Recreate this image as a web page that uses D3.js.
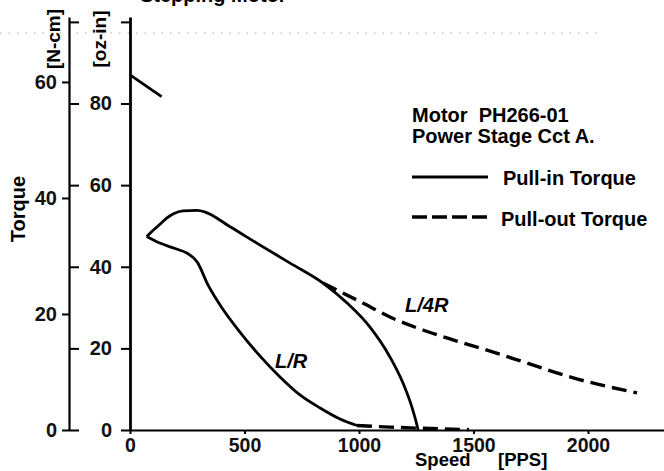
<!DOCTYPE html>
<html>
<head>
<meta charset="utf-8">
<script src="https://cdn.jsdelivr.net/npm/d3@7"></script>
<style>
  body { margin: 0; background: #fff; }
  svg { display: block; font-family: "Liberation Sans", Arial, sans-serif; font-weight: bold; }
  .tick text { font-family: "Liberation Sans", Arial, sans-serif; font-weight: bold; fill: #111; }
</style>
</head>
<body>
<div id="chart"></div>
<script>
// Speed [PPS] / torque [oz-in]
const lowSpeed = [0, 138];
const lowTorque = [87, 81.7];

// pull-in, L/4R (upper branch of the loop and its fall to zero)
const pullInL4RSpeed = [73, 100, 131, 160, 190, 231, 293, 328, 437, 568, 699, 843, 948, 1048, 1135, 1192, 1231, 1253, 1258];
const pullInL4RTorque = [47.4, 48.9, 50.4, 51.9, 53.0, 53.7, 53.8, 53.4, 49.8, 45.3, 40.9, 36, 31.1, 25.2, 17.9, 11.5, 5.6, 1.2, 0];

// pull-in, L/R (lower branch)
const pullInLRSpeed = [73, 130, 200, 250, 293, 341, 402, 480, 568, 655, 742, 830, 917, 991];
const pullInLRTorque = [47.4, 45.8, 44.4, 43.3, 41.2, 35.5, 29.9, 24, 18.1, 13, 8.6, 5.4, 2.7, 1.1];

// pull-out
const pullOutL4RSpeed = [843, 1017, 1135, 1279, 1410, 1528, 1734, 1921, 2214];
const pullOutL4RTorque = [36, 31.1, 27.7, 24.5, 22.1, 20.1, 16.4, 13, 9.1];
const pullOutLRSpeed = [991, 1135, 1258, 1480];
const pullOutLRTorque = [1.1, 0.7, 0.45, 0.1];

const speedTicks = [0, 500, 1000, 1500, 2000];
const ozTicks = [0, 20, 40, 60, 80, 100];
const ncmTicks = [0, 20, 40, 60];

const width = 664, height = 471;

const svg = d3.select("#chart").append("svg")
    .attr("width", width)
    .attr("height", height);

const x = d3.scaleLinear().domain([0, 2330]).range([130, 663.6]);
const y = d3.scaleLinear().domain([0, 101.2]).range([430, 17]);
const yN = d3.scaleLinear().domain([0, 71.2]).range([430, 17]);

// scan artefact: dotted line near the top
svg.append("line")
    .attr("x1", 0).attr("x2", 600)
    .attr("y1", 33).attr("y2", 33)
    .attr("stroke", "#aaa")
    .attr("stroke-width", 1.2)
    .attr("stroke-dasharray", "1.5,7");

// cropped title
svg.append("text")
    .attr("x", 140).attr("y", 2)
    .style("font-size", "20px")
    .text("Stepping Motor");

// x axis
const xAxis = svg.append("g")
    .attr("transform", "translate(0,430)")
    .call(d3.axisBottom(x).tickValues(speedTicks).tickSize(4).tickSizeOuter(0).tickPadding(4)
        .tickFormat(d3.format("d")));
xAxis.select(".domain").attr("stroke-width", 2.2);
xAxis.selectAll(".tick line").attr("stroke-width", 2);
xAxis.selectAll("text").style("font-size", "19.5px");

// oz-in axis
const ozAxis = svg.append("g")
    .attr("transform", "translate(130,0)")
    .call(d3.axisLeft(y).tickValues(ozTicks).tickSize(9).tickSizeOuter(0).tickPadding(9)
        .tickFormat(d => d === 100 ? "" : d));
ozAxis.select(".domain").attr("stroke-width", 2.8);
ozAxis.selectAll(".tick line").attr("stroke-width", 2);
ozAxis.selectAll("text").style("font-size", "20px");

// N-cm axis
const nAxis = svg.append("g")
    .attr("transform", "translate(69,0)")
    .call(d3.axisLeft(yN).tickValues(ncmTicks).tickSize(7).tickSizeOuter(0).tickPadding(5));
nAxis.select(".domain").attr("stroke-width", 2.2);
nAxis.selectAll(".tick line").attr("stroke-width", 2);
nAxis.selectAll("text").style("font-size", "20px");

// small marks to the right of the N-cm axis at the oz-in positions
const nRight = svg.append("g")
    .attr("transform", "translate(69,0)")
    .call(d3.axisRight(y).tickValues(ozTicks).tickSize(10).tickFormat(""));
nRight.select(".domain").remove();
nRight.selectAll(".tick line").attr("stroke-width", 2);

// axis titles
svg.append("text")
    .attr("transform", "translate(25,209) rotate(-90)")
    .attr("text-anchor", "middle")
    .style("font-size", "20px")
    .text("Torque");
svg.append("text")
    .attr("transform", "translate(60,39) rotate(-90)")
    .attr("text-anchor", "middle")
    .style("font-size", "19px")
    .text("[N-cm]");
svg.append("text")
    .attr("transform", "translate(106,39) rotate(-90)")
    .attr("text-anchor", "middle")
    .style("font-size", "19px")
    .text("[oz-in]");
svg.append("text")
    .attr("x", 415).attr("y", 466)
    .style("font-size", "18.5px")
    .text("Speed");
svg.append("text")
    .attr("x", 498).attr("y", 466)
    .style("font-size", "18.5px")
    .text("[PPS]");

// curves
const line = d3.line()
    .x(d => x(d[0]))
    .y(d => y(d[1]))
    .curve(d3.curveMonotoneX);

function drawCurve(speeds, torques, dashed) {
    svg.append("path")
        .datum(d3.zip(speeds, torques))
        .attr("fill", "none")
        .attr("stroke", "#000")
        .attr("stroke-width", dashed ? 3.4 : 2.8)
        .attr("stroke-linejoin", "round")
        .attr("stroke-dasharray", dashed ? "15,7" : null)
        .attr("d", line);
}

drawCurve(lowSpeed, lowTorque, false);
drawCurve(pullOutL4RSpeed, pullOutL4RTorque, true);
drawCurve(pullOutLRSpeed, pullOutLRTorque, true);
drawCurve(pullInL4RSpeed, pullInL4RTorque, false);
drawCurve(pullInLRSpeed, pullInLRTorque, false);

// curve labels
svg.append("text")
    .attr("x", x(1201)).attr("y", y(28.9))
    .style("font-size", "20px")
    .style("font-style", "italic")
    .text("L/4R");
svg.append("text")
    .attr("x", x(633)).attr("y", y(15.2))
    .style("font-size", "20px")
    .style("font-style", "italic")
    .text("L/R");

// legend
const legend = svg.append("g");
legend.append("text").attr("x", 412).attr("y", 122).style("font-size", "20px")
    .attr("xml:space", "preserve").text("Motor  PH266-01");
legend.append("text").attr("x", 412).attr("y", 143).style("font-size", "20px")
    .text("Power Stage Cct A.");
legend.append("line")
    .attr("x1", 412).attr("x2", 488).attr("y1", 177).attr("y2", 177)
    .attr("stroke", "#000").attr("stroke-width", 3);
legend.append("text").attr("x", 503).attr("y", 185).style("font-size", "20px")
    .text("Pull-in Torque");
legend.append("line")
    .attr("x1", 412).attr("x2", 488).attr("y1", 217).attr("y2", 217)
    .attr("stroke", "#000").attr("stroke-width", 3.4)
    .attr("stroke-dasharray", "15,5");
legend.append("text").attr("x", 501).attr("y", 226).style("font-size", "20px")
    .text("Pull-out Torque");
</script>
</body>
</html>
